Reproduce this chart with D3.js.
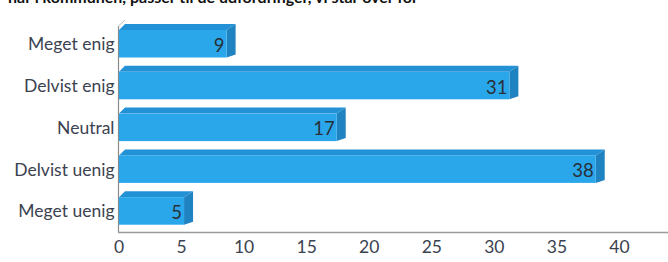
<!DOCTYPE html>
<html>
<head>
<meta charset="utf-8">
<script src="https://cdn.jsdelivr.net/npm/d3@7"></script>
<style>
  html, body { margin: 0; padding: 0; background: #fff; }
  svg { display: block; font-family: Lato, "Open Sans", sans-serif; }
</style>
</head>
<body>
<svg id="chart" width="668" height="262"></svg>
<script>
const titleText = "har i kommunen, passer til de udfordringer, vi står over for";
const categories = ["Meget enig", "Delvist enig", "Neutral", "Delvist uenig", "Meget uenig"];
const values = [8.6, 31.2, 17.4, 38.1, 5.2];
const tickValues = [0, 5, 10, 15, 20, 25, 30, 35, 40];

const svg = d3.select("#chart");
const W = 668, H = 262;

const x = d3.scaleLinear().domain([0, 40]).range([119, 619.5]);
const y = d3.scaleBand().domain(categories).range([23, 232]).paddingInner(0).paddingOuter(0);

const frontColor = "#29A7EA", topColor = "#2391D6", sideColor = "#1F83C2";
const textColor = "#3B4250";
const dxR = 9, dxL = 6, dy = 6;
const frontOff = 7, frontH = 27.5;

// title (cropped at top, as in the reference)
svg.append("text")
  .attr("x", 8).attr("y", 3)
  .attr("font-size", 16).attr("font-weight", "bold").attr("fill", "#111")
  .text(titleText);

// axes lines
svg.append("line").attr("x1", 118.5).attr("x2", 118.5).attr("y1", 26).attr("y2", 232.5)
  .attr("stroke", "#8a8a8a").attr("stroke-width", 1.2);
svg.append("line").attr("x1", 118.5).attr("x2", 125).attr("y1", 26).attr("y2", 20)
  .attr("stroke", "#bbbbbb").attr("stroke-width", 1);
svg.append("line").attr("x1", 118).attr("x2", W).attr("y1", 232.5).attr("y2", 232.5)
  .attr("stroke", "#9a9a9a").attr("stroke-width", 1.5);

const data = categories.map((c, i) => ({ c, v: values[i] }));

const g = svg.append("g");
data.forEach(d => {
  const x0 = x(0), x1 = x(d.v);
  const t = y(d.c) + frontOff, b = t + frontH;
  g.append("path")
    .attr("d", `M${x0},${t} L${x0 + dxL},${t - dy} L${x1 + dxR},${t - dy} L${x1},${t} Z`)
    .attr("fill", topColor);
  g.append("path")
    .attr("d", `M${x1},${t} L${x1 + dxR},${t - dy} L${x1 + dxR},${b - 3} L${x1},${b} Z`)
    .attr("fill", sideColor);
  g.append("rect").attr("x", x0).attr("y", t).attr("width", x1 - x0).attr("height", frontH)
    .attr("fill", frontColor);
  g.append("text")
    .attr("x", x1 - 2).attr("y", t + frontH / 2 + 1)
    .attr("text-anchor", "end").attr("dominant-baseline", "central")
    .attr("font-size", 18.5).attr("fill", "#2a2f38")
    .text(d3.format(".0f")(d.v));
  svg.append("text")
    .attr("x", 114.5).attr("y", t + frontH / 2)
    .attr("text-anchor", "end").attr("dominant-baseline", "central")
    .attr("font-size", 17.5).attr("fill", textColor)
    .text(d.c);
});

svg.append("g").selectAll("text").data(tickValues).join("text")
  .attr("x", d => x(d)).attr("y", 246)
  .attr("text-anchor", "middle").attr("dominant-baseline", "central")
  .attr("font-size", 17.5).attr("fill", textColor)
  .text(d => d);
</script>
</body>
</html>
